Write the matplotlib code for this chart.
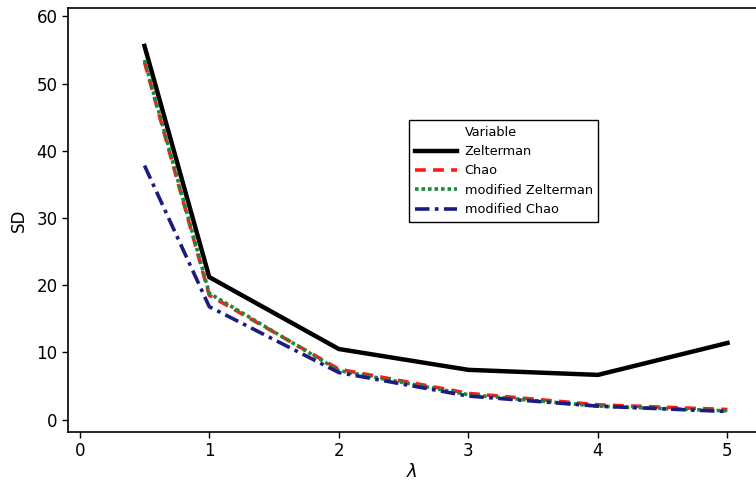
import matplotlib
matplotlib.use("Agg")
import matplotlib.pyplot as plt
from matplotlib.lines import Line2D

# ---------------- Data ----------------
lam = [0.5, 1, 2, 3, 4, 5]
sd_zelterman = [55.6, 21.2, 10.5, 7.4, 6.65, 11.4]
sd_chao = [53.2, 18.5, 7.5, 3.9, 2.2, 1.5]
sd_mod_zelterman = [53.5, 18.8, 7.3, 3.7, 2.0, 1.3]
sd_mod_chao = [37.8, 16.8, 7.0, 3.5, 2.0, 1.2]

plt.rcParams["font.family"] = ["DejaVu Sans"]

fig = plt.figure(figsize=(7.56, 4.88), dpi=100)
ax = fig.add_axes([0.09, 0.115, 0.91, 0.869])

l1, = ax.plot(lam, sd_zelterman, color="black", lw=3.2, label="Zelterman")
l2, = ax.plot(lam, sd_chao, color="#ff1a1a", lw=2.6, ls=(0, (3, 2)), label="Chao")
l3, = ax.plot(lam, sd_mod_zelterman, color="#1a8a3a", lw=2.6, ls=(0, (1, 0.8)),
              label="modified Zelterman")
l4, = ax.plot(lam, sd_mod_chao, color="#1c1c80", lw=2.6, ls=(0, (4, 1.5, 1, 1.5)),
              label="modified Chao")

ax.set_xlim(-0.09, 5.22)
ax.set_ylim(-1.83, 61.27)
ax.set_xticks([0, 1, 2, 3, 4, 5])
ax.set_yticks([0, 10, 20, 30, 40, 50, 60])
ax.tick_params(labelsize=12, length=4, width=1)
ax.spines["right"].set_visible(False)
for s in ["top", "left", "bottom"]:
    ax.spines[s].set_linewidth(1.2)

ax.set_xlabel(r"$\lambda$", fontsize=13, labelpad=2)
ax.set_ylabel("SD", fontsize=12, labelpad=6)

# "Variable" header as an invisible entry so it lines up with the labels
header = Line2D([], [], color="none")
leg = ax.legend([header, l1, l2, l3, l4],
                ["Variable", "Zelterman", "Chao", "modified Zelterman", "modified Chao"],
                fontsize=9.3, loc="upper left", bbox_to_anchor=(0.4956, 0.736),
                fancybox=False, edgecolor="black", framealpha=1,
                handlelength=3.25, handletextpad=0.6, borderpad=0.45,
                labelspacing=0.5, borderaxespad=0)
leg.get_frame().set_linewidth(1)

fig.savefig("out.png", dpi=100)
